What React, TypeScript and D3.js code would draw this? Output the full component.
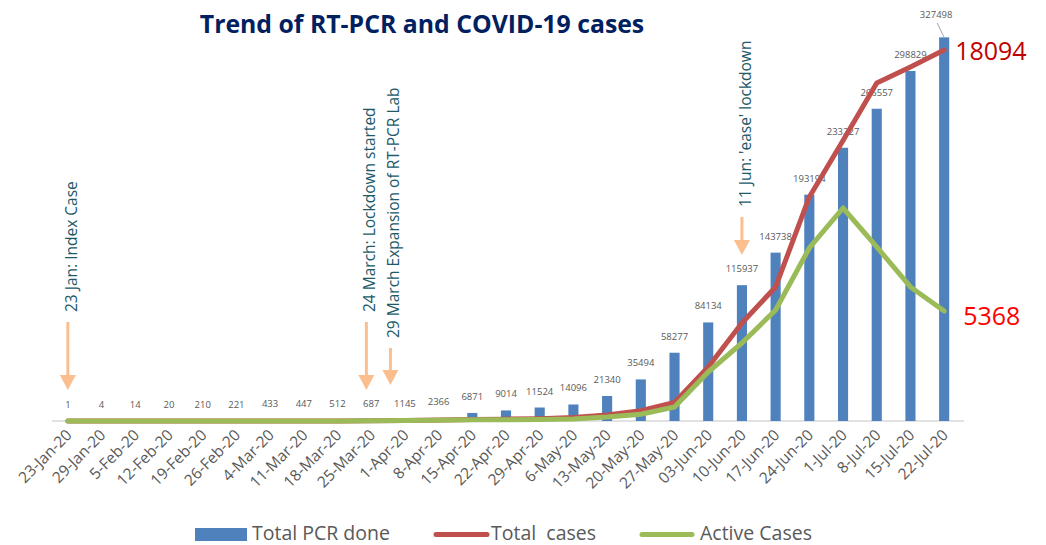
import React from "react";
import * as d3 from "d3";

// weekly categories
const weeks = [
  "23-Jan-20", "29-Jan-20", "5-Feb-20", "12-Feb-20", "19-Feb-20", "26-Feb-20",
  "4-Mar-20", "11-Mar-20", "18-Mar-20", "25-Mar-20", "1-Apr-20", "8-Apr-20",
  "15-Apr-20", "22-Apr-20", "29-Apr-20", "6-May-20", "13-May-20", "20-May-20",
  "27-May-20", "03-Jun-20", "10-Jun-20", "17-Jun-20", "24-Jun-20", "1-Jul-20",
  "8-Jul-20", "15-Jul-20", "22-Jul-20",
];

// cumulative RT-PCR tests (bars, left axis)
const pcrDone = [
  1, 4, 14, 20, 210, 221, 433, 447, 512, 687, 1145, 2366, 6871, 9014, 11524,
  14096, 21340, 35494, 58277, 84134, 115937, 143738, 193194, 233227, 266557,
  298829, 327498,
];

// lines, right axis
const totalCases = [
  0, 0, 0, 0, 0, 0, 0, 0, 2, 10, 25, 45, 70, 90, 115, 170, 290, 500, 900,
  2630, 4780, 6540, 10930, 13680, 16490, 17270, 18094,
];
const activeCases = [
  0, 0, 0, 0, 0, 0, 0, 0, 2, 10, 22, 38, 55, 65, 75, 100, 190, 330, 683,
  2390, 3805, 5415, 8440, 10390, 8490, 6540, 5368,
];

// event markers: week + days after that week's date
const events = [
  { week: "23-Jan-20", days: 0, text: "23 Jan: Index Case", top: 322, tip: 390 },
  { week: "25-Mar-20", days: -1, text: "24 March: Lockdown started", top: 322, tip: 390 },
  { week: "25-Mar-20", days: 4, text: "29 March Expansion of RT-PCR Lab", top: 348, tip: 385 },
  { week: "10-Jun-20", days: 0, text: "11 Jun: 'ease' lockdown", top: 217, tip: 255 },
];

const W = 1046;
const H = 545;
const FONT = "'Open Sans', sans-serif";

export default function App() {
  const x = d3
    .scaleBand<string>()
    .domain(weeks)
    .range([51, 961])
    .paddingInner(0.7)
    .paddingOuter(0.35);
  const cx = (w: string) => (x(w) as number) + x.bandwidth() / 2;

  const y = d3.scaleLinear().domain([0, 350000]).range([421, 11]);
  const y2 = d3.scaleLinear().domain([0, 20000]).range([421, 11]);

  const line = d3
    .line<number>()
    .x((_, i) => cx(weeks[i]))
    .y((d) => y2(d));

  const last = weeks.length - 1;
  const lastX = cx(weeks[last]);

  return (
    <svg
      width={W}
      height={H}
      style={{ position: "absolute", left: 0, top: 0, background: "#fff" }}
      fontFamily={FONT}
    >
      <text
        x={422}
        y={33}
        textAnchor="middle"
        fontSize={24.8}
        fontWeight="bold"
        fill="#002060"
      >
        Trend of RT-PCR and COVID-19 cases
      </text>

      {/* baseline */}
      <line x1={52} x2={964} y1={421} y2={421} stroke="#D9D9D9" strokeWidth={1.5} />

      {/* bars */}
      {pcrDone.map((v, i) => (
        <rect
          key={weeks[i]}
          x={x(weeks[i])}
          y={y(v)}
          width={x.bandwidth()}
          height={y(0) - y(v)}
          fill="#4F81BD"
        />
      ))}

      {/* bar labels */}
      {pcrDone.map((v, i) =>
        i === last ? null : (
          <text
            key={"l" + i}
            x={cx(weeks[i])}
            y={y(v) - 13}
            textAnchor="middle"
            fontSize={9.5}
            fill="#595959"
          >
            {v}
          </text>
        )
      )}
      <text x={lastX - 8} y={18} textAnchor="middle" fontSize={9.5} fill="#595959">
        {pcrDone[last]}
      </text>
      <line
        x1={lastX - 7}
        y1={23}
        x2={lastX}
        y2={y(pcrDone[last])}
        stroke="#A6A6A6"
        strokeWidth={1}
      />

      {/* lines */}
      <path
        d={line(totalCases) as string}
        fill="none"
        stroke="#C0504D"
        strokeWidth={5}
        strokeLinejoin="round"
        strokeLinecap="round"
      />
      <path
        d={line(activeCases) as string}
        fill="none"
        stroke="#9BBB59"
        strokeWidth={5}
        strokeLinejoin="round"
        strokeLinecap="round"
      />

      <text x={lastX + 11} y={y2(totalCases[last]) + 10} fontSize={25} fill="#C00000">
        {totalCases[last]}
      </text>
      <text x={lastX + 19} y={y2(activeCases[last]) + 14} fontSize={25} fill="#FF0000">
        {activeCases[last]}
      </text>

      {/* x axis labels */}
      {weeks.map((w) => (
        <text
          key={"x" + w}
          transform={`translate(${cx(w) + 5},${436}) rotate(-45)`}
          textAnchor="end"
          fontSize={15.5}
          fill="#595959"
        >
          {w}
        </text>
      ))}

      {/* event annotations */}
      {events.map((e) => {
        const ax = cx(e.week) + (e.days / 7) * x.step();
        return (
          <g key={e.text}>
            <rect x={ax - 1.5} y={e.top} width={3} height={e.tip - 15 - e.top} fill="#FBBF8F" />
            <path
              d={`M${ax - 8},${e.tip - 15}L${ax + 8},${e.tip - 15}L${ax},${e.tip}Z`}
              fill="#FBBF8F"
            />
            <text
              transform={`translate(${ax + 9},${e.top - 10}) rotate(-90)`}
              fontSize={15.5}
              fill="#215968"
            >
              {e.text}
            </text>
          </g>
        );
      })}

      {/* legend */}
      <rect x={195} y={528} width={52} height={13} fill="#4F81BD" />
      <text x={252} y={540} fontSize={19.5} fill="#595959">
        Total PCR done
      </text>
      <line x1={436} x2={487} y1={534.5} y2={534.5} stroke="#C0504D" strokeWidth={5} strokeLinecap="round" />
      <text x={491} y={540} fontSize={19.5} fill="#595959" style={{ whiteSpace: "pre" }}>
        {"Total  cases"}
      </text>
      <line x1={642} x2={692} y1={534.5} y2={534.5} stroke="#9BBB59" strokeWidth={5} strokeLinecap="round" />
      <text x={700} y={540} fontSize={19.5} fill="#595959">
        Active Cases
      </text>
    </svg>
  );
}
